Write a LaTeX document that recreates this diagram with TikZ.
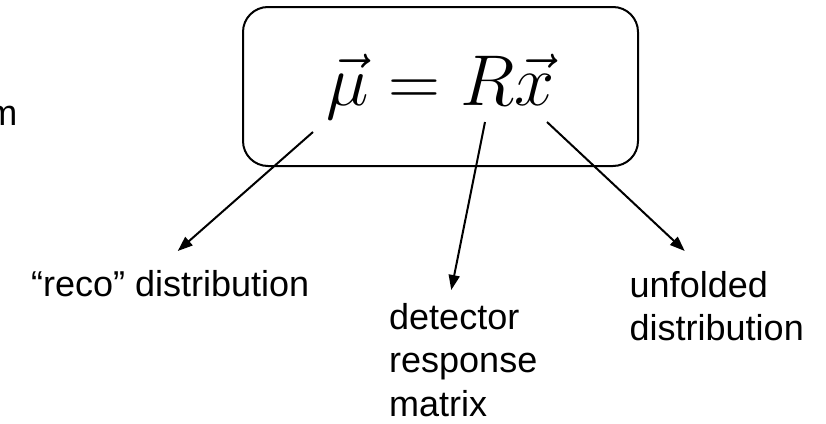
\RequirePackage{fix-cm}
\documentclass[tikz,border=0pt]{standalone}
\usepackage{amsmath,amssymb}
\usepackage{fontspec}
\usepackage{tikz}
\usetikzlibrary{arrows.meta,positioning,calc}
\newfontfamily\labelfont[Ligatures=TeX]{Liberation Sans}

\begin{document}
\begin{tikzpicture}[x=1pt,y=1pt,
eqbox/.style={draw,line width=2pt,rounded corners=25pt,minimum width=395pt,minimum height=159pt,inner sep=0pt,font=\fontsize{72}{76}\selectfont},
lbl/.style={inner sep=0pt,align=left,font=\labelfont\fontsize{36}{43.5}\selectfont},
arr/.style={-{Triangle[length=15pt,width=11pt]},line width=2pt}
]
\useasboundingbox (0,0) rectangle (826,-423);
\node[eqbox] (eq) at (440.5,-86.5) {$\vec{\mu} = R\vec{x}$};
\node[lbl,anchor=base east] (cut) at (17.5,-125) {m};
\node[lbl,anchor=north west] (reco) at (31,-270) {“reco” distribution};
\node[lbl,anchor=north west] (resp) at (389,-303) {detector\\response\\matrix};
\node[lbl,anchor=north west] (unf) at (629.5,-271) {unfolded\\distribution};
\foreach \dx/\dy/\n/\ex/\ey in {-127.5/-45.5/reco/7.5/19,44.5/-35.5/resp/-12/13,106.5/-35.5/unf/-32/20}
\draw[arr] ($(eq.center)+(\dx,\dy)$) -- ($(\n.north)+(\ex,\ey)$);
\end{tikzpicture}
\end{document}
